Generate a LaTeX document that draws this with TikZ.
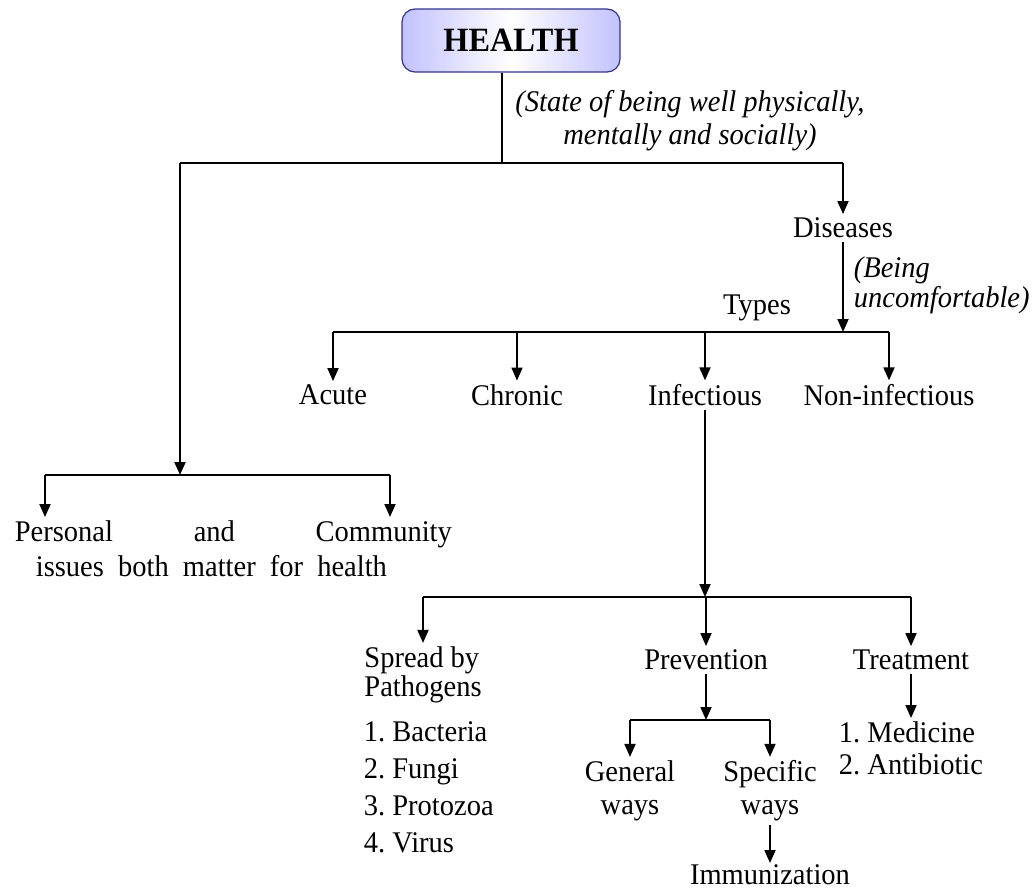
\documentclass[tikz,border=0pt]{standalone}
\usepackage{fontspec}
\setmainfont{Liberation Serif}[FakeStretch=0.95]
\usetikzlibrary{arrows.meta,positioning}

\tikzset{
  lbl/.style={inner sep=3pt,font=\fontsize{30}{36}\selectfont},
  note/.style={inner sep=0pt,font=\fontsize{30}{33}\selectfont\itshape},
  arr/.style={-{Triangle[length=13pt,width=11pt]}}
}

\begin{document}
\frenchspacing
\begin{tikzpicture}[x=1pt,y=-1pt,line width=1.8pt]
  \useasboundingbox (0,0) rectangle (1034,892);
  % root
  \node[draw=blue!45!black!80,line width=1.2pt,rounded corners=13pt,
        left color=blue!24,right color=blue!24,middle color=white,
        minimum width=218pt,minimum height=63pt,
        font=\fontsize{34}{34}\selectfont\bfseries] (health) at (511,40.5) {HEALTH};
  \node[note,align=center] (state) at (690,121) {(State of being well physically,\\mentally and socially)};
  \coordinate (top) at (502,163);
  \coordinate (tl) at (180,163);
  \coordinate (tr) at (843,163);
  \draw (top |- health.south) -- (top);
  \draw (tl) -- (tr);

  % diseases branch
  \node[lbl] (dis) at (843,228) {Diseases};
  \node[note,align=left,anchor=west,font=\fontsize{30}{30}\selectfont\itshape] (being) at (853,285) {(Being\\uncomfortable)};
  \node[lbl] (types) at (757,308) {Types};
  \draw[arr] (tr) -- (dis);
  \coordinate (tb) at (843,332);
  \draw[arr] (dis) -- (tb);
  \node[lbl] (acute) at (333,395) {Acute};
  \node[lbl] (chronic) at (517,395) {Chronic};
  \node[lbl] (infect) at (705,395) {Infectious};
  \node[lbl] (noninf) at (889,395) {Non-infectious};
  \draw (acute |- tb) -- (noninf |- tb);
  \foreach \n in {acute,chronic,infect,noninf}
    \draw[arr] (\n |- tb) -- (\n);

  % personal and community
  \coordinate (pc) at (180,475);
  \coordinate (pl) at (45,475);
  \coordinate (pr) at (390,475);
  \draw[arr] (tl) -- (pc);
  \draw (pl) -- (pr);
  \node[lbl,align=left,anchor=north west,font=\fontsize{30}{35}\selectfont] (personal) at (11,517)
    {\makebox[437pt][s]{Personal and Community}\\\hspace*{21pt}\makebox[351pt][s]{issues both matter for health}};
  \draw[arr] (pl) -- (personal.north -| pl);
  \draw[arr] (pr) -- (personal.north -| pr);

  % infectious
  \coordinate (ib) at (705,597);
  \draw[arr] (infect) -- (ib);
  \node[lbl,align=left,font=\fontsize{30}{29}\selectfont] (spread) at (423,675) {Spread by\\Pathogens};
  \node[lbl] (prev) at (706,660) {Prevention};
  \node[lbl] (treat) at (911,660) {Treatment};
  \draw (spread |- ib) -- (treat |- ib);
  \foreach \n in {spread,prev,treat}
    \draw[arr] (\n |- ib) -- (\n);
  \node[lbl,align=left,anchor=north west,font=\fontsize{30}{37}\selectfont] (list) at (360,718)
    {1. Bacteria\\2. Fungi\\3. Protozoa\\4. Virus};

  % prevention
  \coordinate (pb) at (706,720);
  \draw[arr] (prev) -- (pb);
  \node[lbl,align=center,font=\fontsize{30}{33}\selectfont] (gen) at (630,791) {General\\ways};
  \node[lbl,align=center,font=\fontsize{30}{33}\selectfont] (spec) at (770,791) {Specific\\ways};
  \draw (gen |- pb) -- (spec |- pb);
  \draw[arr] (gen |- pb) -- (gen);
  \draw[arr] (spec |- pb) -- (spec);
  \node[lbl,inner sep=1pt] (immun) at (770,875) {Immunization};
  \draw[arr] (spec) -- (immun);

  % treatment
  \node[lbl,align=left,anchor=north,font=\fontsize{30}{32}\selectfont] (med) at (911,718) {1. Medicine\\2. Antibiotic};
  \draw[arr] (treat) -- (med);
\end{tikzpicture}
\end{document}
